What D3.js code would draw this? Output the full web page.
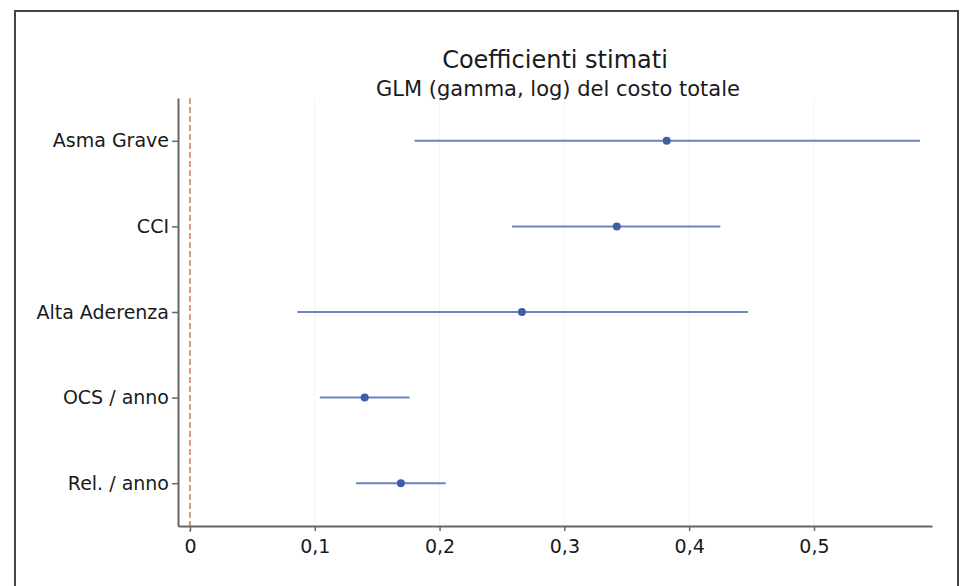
<!DOCTYPE html>
<html>
<head>
<meta charset="utf-8">
<script src="https://cdn.jsdelivr.net/npm/d3@7"></script>
<style>
  body { margin: 0; background: #fff; }
  svg text { font-family: "DejaVu Sans", sans-serif; fill: #1a1a1a; }
</style>
</head>
<body>
<svg class="chart"></svg>
<script>
// coefficient estimates with 95% CI
const categories = ["Asma Grave", "CCI", "Alta Aderenza", "OCS / anno", "Rel. / anno"]
const estimates  = [0.382, 0.342, 0.266, 0.140, 0.169]
const lower      = [0.180, 0.258, 0.086, 0.104, 0.133]
const upper      = [0.585, 0.425, 0.447, 0.176, 0.205]
const xTicks     = [0, 0.1, 0.2, 0.3, 0.4, 0.5]

const data = categories.map((c, i) => ({name: c, est: estimates[i], lo: lower[i], hi: upper[i]}))

var width = 962, height = 586

var svg = d3.select(".chart")
    .attr("width", width)
    .attr("height", height)

// frame (top, left, right only)
svg.append("path")
    .attr("d", "M15,586 L15,11 L958,11 L958,586")
    .attr("fill", "none")
    .attr("stroke", "#444")
    .attr("stroke-width", 2)

var xScale = d3.scaleLinear()
    .domain([-0.0096, 0.5946])
    .range([178, 932])

var yScale = d3.scalePoint()
    .domain(categories)
    .range([98, 526])
    .padding(0.5)

// faint grid
svg.append("g")
    .selectAll("line")
    .data(xTicks.slice(1))
    .join("line")
    .attr("x1", d => xScale(d)).attr("x2", d => xScale(d))
    .attr("y1", 98).attr("y2", 526)
    .attr("stroke", "#f5f5f5")
    .attr("stroke-width", 1)

// reference line at 0
svg.append("line")
    .attr("x1", xScale(0)).attr("x2", xScale(0))
    .attr("y1", 98).attr("y2", 532)
    .attr("stroke", "#d99a8c")
    .attr("stroke-width", 2)
    .attr("stroke-dasharray", "6,3")

// axes
var xAxis = svg.append("g")
    .attr("transform", "translate(0,526)")
    .call(d3.axisBottom(xScale)
        .tickValues(xTicks)
        .tickSize(5)
        .tickSizeOuter(0)
        .tickFormat(d => d3.format(".1~f")(d).replace(".", ",")))
xAxis.select(".domain").attr("stroke", "#666").attr("stroke-width", 2)
xAxis.selectAll(".tick line").attr("stroke", "#666").attr("stroke-width", 1.5)
xAxis.selectAll("text").attr("font-size", 19).attr("y", 12).attr("dy", "0.8em")

var yAxis = svg.append("g")
    .attr("transform", "translate(178,0)")
    .call(d3.axisLeft(yScale).tickSize(6).tickSizeOuter(0))
yAxis.select(".domain").attr("stroke", "#666").attr("stroke-width", 2)
yAxis.selectAll(".tick line").attr("stroke", "#666").attr("stroke-width", 1.5)
yAxis.selectAll("text").attr("font-size", 19).attr("x", -9)

// intervals
svg.append("g")
    .selectAll("line")
    .data(data)
    .join("line")
    .attr("x1", d => xScale(d.lo))
    .attr("x2", d => xScale(d.hi))
    .attr("y1", d => yScale(d.name))
    .attr("y2", d => yScale(d.name))
    .attr("stroke", "#6b83c4")
    .attr("stroke-width", 2)

svg.append("g")
    .selectAll("circle")
    .data(data)
    .join("circle")
    .attr("cx", d => xScale(d.est))
    .attr("cy", d => yScale(d.name))
    .attr("r", 4)
    .attr("fill", "#3f5fa8")

// titles
svg.append("text")
    .text("Coefficienti stimati")
    .attr("x", 555).attr("y", 68)
    .attr("text-anchor", "middle")
    .attr("font-size", 24)

svg.append("text")
    .text("GLM (gamma, log) del costo totale")
    .attr("x", 558).attr("y", 96)
    .attr("text-anchor", "middle")
    .attr("font-size", 21)
</script>
</body>
</html>
